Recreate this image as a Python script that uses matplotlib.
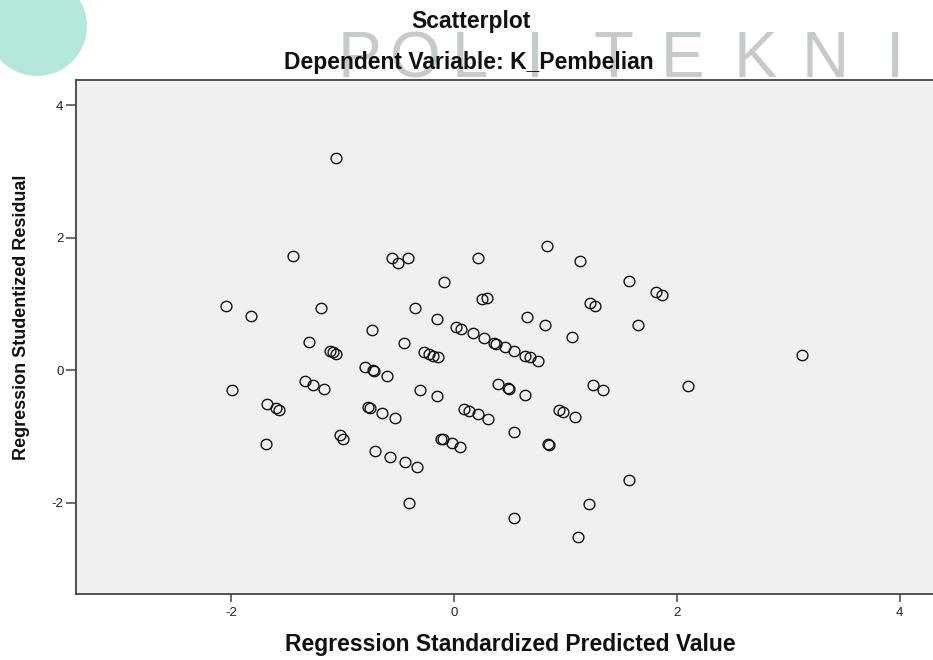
import numpy as np
import matplotlib
matplotlib.use("Agg")
import matplotlib.pyplot as plt
from matplotlib.path import Path
from matplotlib.patches import Ellipse

# ---- data ----
pred = [-2.052, -1.827, -1.991, -1.676, -1.595, -1.568, -1.685, -1.442, -1.199, -1.307,
        -1.343, -1.271, -1.172, -1.118, -1.091, -1.064, -1.064, -1.028, -1.001, -0.740,
        -0.803, -0.731, -0.722, -0.605, -0.776, -0.758, -0.650, -0.533, -0.713, -0.578,
        -0.443, -0.335, -0.560, -0.506, -0.416, -0.452, -0.353, -0.308, -0.407, -0.156,
        -0.156, -0.093, -0.273, -0.228, -0.192, -0.147, -0.120, -0.100, -0.021, 0.051,
        0.015, 0.060, 0.213, 0.168, 0.267, 0.249, 0.294, 0.357, 0.375, 0.456,
        0.537, 0.636, 0.681, 0.753, 0.087, 0.132, 0.213, 0.303, 0.393, 0.483,
        0.492, 0.636, 0.537, 0.537, 0.654, 0.834, 0.816, 0.843, 0.852, 0.942,
        0.978, 1.086, 1.059, 1.131, 1.113, 1.221, 1.266, 1.248, 1.338, 1.212,
        1.572, 1.572, 1.653, 1.815, 1.869, 2.103, 3.126]
resid = [0.970, 0.819, -0.297, -0.508, -0.569, -0.599, -1.111, 1.723, 0.939, 0.427,
         -0.161, -0.221, -0.282, 0.291, 0.276, 0.246, 3.201, -0.970, -1.030, 0.608,
         0.050, 0.005, -0.011, -0.086, -0.553, -0.568, -0.643, -0.719, -1.216, -1.307,
         -1.382, -1.457, 1.693, 1.618, 1.693, 0.412, 0.939, -0.297, -2.000, -0.388,
         0.773, 1.331, 0.276, 0.246, 0.216, 0.201, -1.030, -1.030, -1.096, -1.156,
         0.653, 0.623, 1.693, 0.562, 0.487, 1.075, 1.090, 0.412, 0.397, 0.351,
         0.291, 0.216, 0.201, 0.140, -0.583, -0.613, -0.659, -0.734, -0.206, -0.267,
         -0.282, -0.372, -0.930, -2.227, 0.804, 1.874, 0.683, -1.111, -1.126, -0.598,
         -0.628, -0.704, 0.502, 1.648, -2.513, 1.015, 0.969, -0.221, -0.297, -2.015,
         1.347, -1.648, 0.683, 1.181, 1.135, -0.237, 0.231]
x_ticks = [-2, 0, 2, 4]
y_ticks = [-2, 0, 2, 4]
title_lines = ["Scatterplot", "Dependent Variable: K_Pembelian"]
x_label = "Regression Standardized Predicted Value"
y_label = "Regression Studentized Residual"
watermark = ["P", "O", "L", "I", "T", "E", "K", "N", "I"]

# ---- figure ----
W, H = 933, 660
fig = plt.figure(figsize=(W / 100, H / 100), dpi=100)
fig.patch.set_facecolor("white")

def fx(px):
    return px / W

def fy(py):
    return 1 - py / H

# decorative teal circle (top-left)
fig.add_artist(Ellipse((fx(37), fy(26)), 100 / W, 100 / H, transform=fig.transFigure,
                       facecolor="#b5e8dc", edgecolor="none", zorder=1))

# watermark letters (drawn behind the title, as in the reference)
wm_x = [359, 415, 470, 535, 613, 682, 755, 825, 895]
for ch, px in zip(watermark, wm_x):
    fig.text(fx(px), fy(77), ch, ha="center", va="baseline", fontsize=47,
             family=["Liberation Sans Narrow", "Liberation Sans", "DejaVu Sans"],
             color="#c6cac9", zorder=2)

ax = fig.add_axes([fx(76), fy(594), 1.002 - fx(76), fy(80) - fy(594)])
ax.set_facecolor("#f0f0f0")

t = np.linspace(0, 2 * np.pi, 64)
ell = Path(np.column_stack([1.05 * np.cos(t), np.sin(t)]), closed=True)
ax.plot(pred, resid, linestyle="none", marker=ell, markersize=7.8,
        markerfacecolor="none", markeredgecolor="#141414", markeredgewidth=1.0)

ax.set_xlim(-3.394, 4.315)
ax.set_ylim(-3.373, 4.377)
ax.set_xticks(x_ticks)
ax.set_yticks(y_ticks)
ax.set_xticklabels([str(v) for v in x_ticks])
ax.set_yticklabels([str(v) for v in y_ticks])

for s in ["left", "top", "bottom"]:
    ax.spines[s].set_color("#444444")
    ax.spines[s].set_linewidth(1.3)
ax.spines["right"].set_visible(False)

ax.tick_params(axis="x", direction="out", length=6, width=1.1, color="#444444",
               pad=3, labelsize=9.5, labelcolor="#222222")
ax.tick_params(axis="y", direction="out", length=7.5, width=1.1, color="#444444",
               pad=1.5, labelsize=9.5, labelcolor="#222222")
for lab in ax.get_xticklabels() + ax.get_yticklabels():
    lab.set_family(["Liberation Sans", "DejaVu Sans"])

# titles and axis labels
fig.text(fx(471), fy(28), title_lines[0], ha="center", va="baseline", fontsize=16.5,
         fontweight="bold", family=["Liberation Sans", "DejaVu Sans"], color="#111111", zorder=5)
fig.text(fx(469), fy(69), title_lines[1], ha="center", va="baseline", fontsize=16.5,
         fontweight="bold", family=["Liberation Sans", "DejaVu Sans"], color="#111111", zorder=5)
fig.text(fx(510), fy(645), x_label, ha="center", va="center", fontsize=16.5,
         fontweight="bold", family=["Liberation Sans", "DejaVu Sans"], color="#111111")
fig.text(fx(22), fy(317), y_label, ha="center", va="center", rotation=90, fontsize=13,
         fontweight="bold", family=["Liberation Sans", "DejaVu Sans"], color="#111111")

fig.savefig("out.png", dpi=100, facecolor="white")
